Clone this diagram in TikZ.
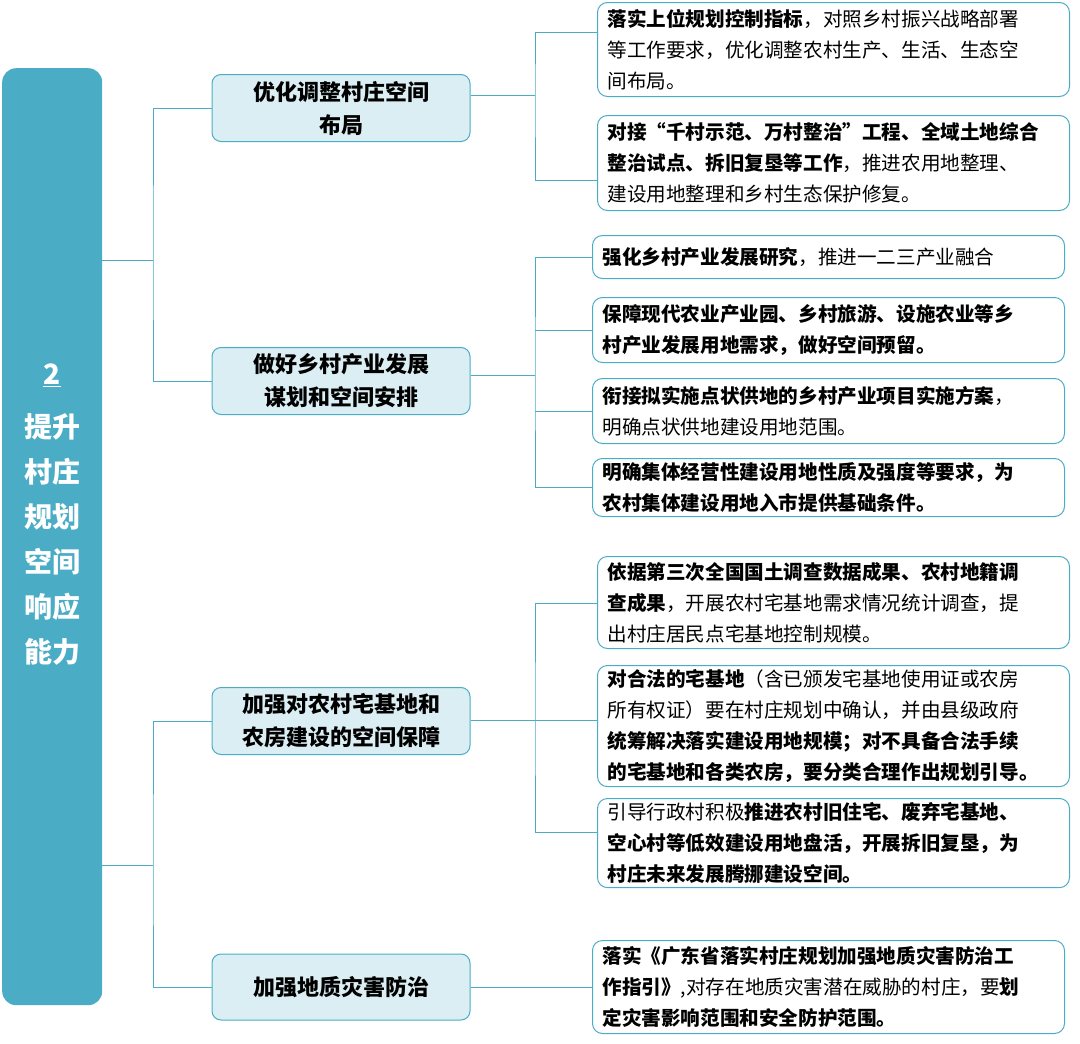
\documentclass[tikz,border=0pt]{standalone}
\usepackage{fontspec}
\setmainfont{Noto Sans CJK SC}
\definecolor{tq}{HTML}{4BACC6}
\definecolor{lb}{HTML}{DAEEF3}
\begin{document}
\begin{tikzpicture}[x=1pt,y=-1pt,
  ln/.style={draw=tq,line width=1pt},
  mid/.style={draw=tq,fill=lb,rounded corners=9pt,line width=1pt,minimum width=258pt,align=center,font=\fontsize{22}{33}\selectfont\bfseries,inner sep=4pt},
  leaf/.style={draw=tq,fill=white,rounded corners=10pt,line width=1pt,align=left,font=\fontsize{19.6}{31}\selectfont,inner xsep=10pt,inner ysep=4pt,anchor=north west,text width=452pt}]
\useasboundingbox (0,0) rectangle (1080,1044);
\node[fill=tq,rounded corners=14pt,minimum width=100pt,minimum height=937pt,anchor=north west,inner sep=0] (root) at (2,68) {};
\node[text=white,font=\fontsize{28}{45}\selectfont\bfseries,align=center] (rt) at (52,515) {\underline{\itshape 2}\\[8pt]提升\\村庄\\规划\\空间\\响应\\能力};
% mid nodes
\node[mid,minimum height=67pt] (m1) at (341,108) {优化调整村庄空间\\布局};
\node[mid,minimum height=67pt] (m2) at (341,381) {做好乡村产业发展\\谋划和空间安排};
\node[mid,minimum height=67pt] (m3) at (341,721) {加强对农村宅基地和\\农房建设的空间保障};
\node[mid,minimum height=66pt] (m4) at (341,987) {加强地质灾害防治};
% leaves
\node[leaf,minimum height=94pt] (l1) at (597,2) {\textbf{落实上位规划控制指标}，对照乡村振兴战略部署\\等工作要求，优化调整农村生产、生活、生态空\\间布局。};
\node[leaf,minimum height=95pt] (l2) at (597,115) {\textbf{对接“千村示范、万村整治”工程、全域土地综合}\\\textbf{整治试点、拆旧复垦等工作}，推进农用地整理、\\建设用地整理和乡村生态保护修复。};
\node[leaf,minimum height=43pt] (l3) at (592,235) {\textbf{强化乡村产业发展研究}，推进一二三产业融合};
\node[leaf,minimum height=65pt] (l4) at (592,297) {\textbf{保障现代农业产业园、乡村旅游、设施农业等乡}\\\textbf{村产业发展用地需求，做好空间预留。}};
\node[leaf,minimum height=65pt] (l5) at (592,378) {\textbf{衔接拟实施点状供地的乡村产业项目实施方案}，\\明确点状供地建设用地范围。};
\node[leaf,minimum height=58pt] (l6) at (592,458) {\textbf{明确集体经营性建设用地性质及强度等要求，为}\\\textbf{农村集体建设用地入市提供基础条件。}};
\node[leaf,minimum height=92pt] (l7) at (597,556) {\textbf{依据第三次全国国土调查数据成果、农村地籍调}\\\textbf{查成果}，开展农村宅基地需求情况统计调查，提\\出村庄居民点宅基地控制规模。};
\node[leaf,minimum height=117pt] (l8) at (597,665) {\textbf{对合法的宅基地}（含已颁发宅基地使用证或农房\\所有权证）要在村庄规划中确认，并由县级政府\\\textbf{统筹解决落实建设用地规模；对不具备合法手续}\\\textbf{的宅基地和各类农房，要分类合理作出规划引导。}};
\node[leaf,minimum height=89pt] (l9) at (597,798) {引导行政村积极\textbf{推进农村旧住宅、废弃宅基地、}\\\textbf{空心村等低效建设用地盘活，开展拆旧复垦，为}\\\textbf{村庄未来发展腾挪建设空间。}};
\node[leaf,minimum height=93pt] (l10) at (592,940) {\textbf{落实《广东省落实村庄规划加强地质灾害防治工}\\\textbf{作指引》},对存在地质灾害潜在威胁的村庄，要\textbf{划}\\\textbf{定灾害影响范围和安全防护范围。}};
% connectors left
\coordinate (s1) at (153,260);
\coordinate (s2) at (153,865);
\draw[ln] (root.east|-s1) -- (s1);
\draw[ln] (m1.west) -| (s1) |- (m2.west);
\draw[ln] (root.east|-s2) -- (s2);
\draw[ln] (m3.west) -| (s2) |- (m4.west);
% right spines
\coordinate (r1) at (535,95);
\draw[ln] (m1.east|-r1) -- (r1);
\draw[ln] (l1.west|-0,32) -| (r1) |- (l2.west|-0,180);
\coordinate (r2) at (535,375);
\draw[ln] (m2.east|-r2) -- (r2);
\draw[ln] (l3.west) -| (r2) |- (l6.west);
\draw[ln] (l4.west) -- (l4.west-|r2);
\draw[ln] (l5.west) -- (l5.west-|r2);
\coordinate (r3) at (535,720);
\draw[ln] (m3.east|-r3) -- (r3);
\draw[ln] (l7.west|-0,603) -| (r3) |- (l9.west|-0,832);
\draw[ln] (l8.west|-r3) -- (r3);
\draw[ln] (m4.east) -- (m4.east-|l10.west);
\end{tikzpicture}
\end{document}
